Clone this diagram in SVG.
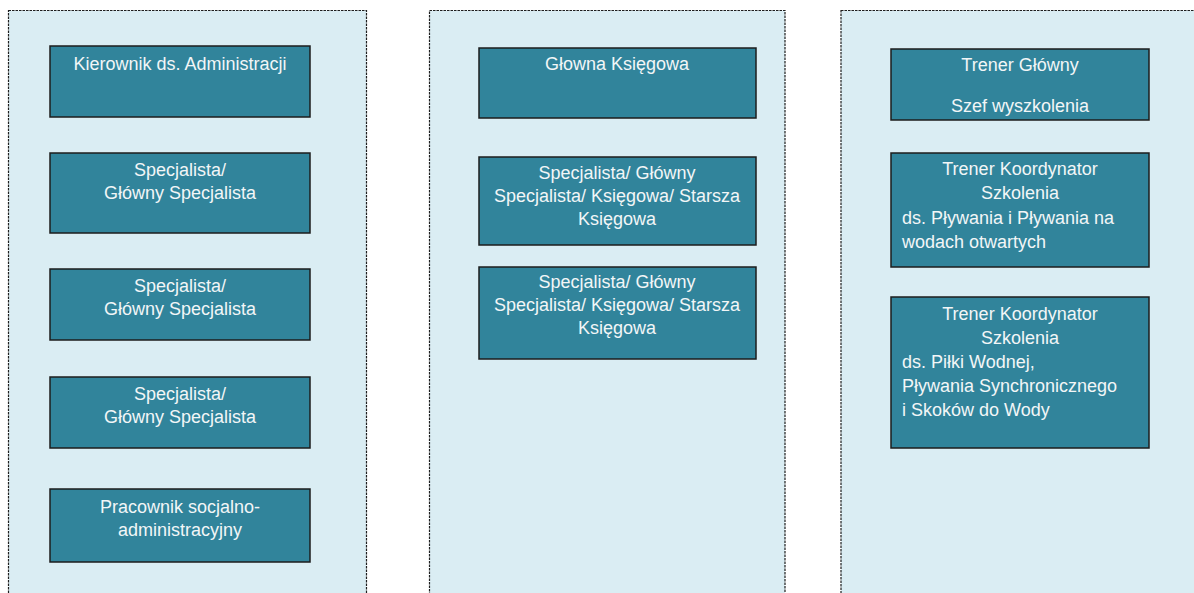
<svg xmlns="http://www.w3.org/2000/svg" width="1194" height="593" viewBox="0 0 1194 593">
<style>
.panel{fill:#daedf3;stroke:#1e1e1e;stroke-width:1.2;stroke-dasharray:2.5 1}
.box{fill:#31849b;stroke:#1c1c1c;stroke-width:1.5}
text{font-family:"Liberation Sans",Arial,sans-serif;font-size:18px;fill:#f2f6f7}
.c{text-anchor:middle}
</style>
<rect width="1194" height="593" fill="#ffffff"/>
<g id="panels">
<rect id="panel-admin" class="panel" x="8.5" y="10.5" width="358" height="600"/>
<rect id="panel-ksiegowosc" class="panel" x="429.5" y="10.5" width="355.5" height="600"/>
<rect id="panel-szkolenie" class="panel" x="841" y="10.5" width="360" height="600"/>
</g>
<g id="connectors"></g>
<g id="n1"><rect class="box" x="50" y="46" width="260" height="71"/><text class="c" x="180" y="70">Kierownik ds. Administracji</text></g>
<g id="n2"><rect class="box" x="50" y="153" width="260" height="80"/><text class="c" x="180" y="176">Specjalista/</text><text class="c" x="180" y="199">Główny Specjalista</text></g>
<g id="n3"><rect class="box" x="50" y="269" width="260" height="71"/><text class="c" x="180" y="292">Specjalista/</text><text class="c" x="180" y="315">Główny Specjalista</text></g>
<g id="n4"><rect class="box" x="50" y="377" width="260" height="71"/><text class="c" x="180" y="400">Specjalista/</text><text class="c" x="180" y="423">Główny Specjalista</text></g>
<g id="n5"><rect class="box" x="50" y="489" width="260" height="73"/><text class="c" x="180" y="513">Pracownik socjalno-</text><text class="c" x="180" y="536">administracyjny</text></g>
<g id="n6"><rect class="box" x="479" y="48" width="277" height="70"/><text class="c" x="617" y="70">Głowna Księgowa</text></g>
<g id="n7"><rect class="box" x="479" y="157" width="277" height="88"/><text class="c" x="617" y="179">Specjalista/ Główny</text><text class="c" x="617" y="202">Specjalista/ Księgowa/ Starsza</text><text class="c" x="617" y="225">Księgowa</text></g>
<g id="n8"><rect class="box" x="479" y="267" width="277" height="92"/><text class="c" x="617" y="288">Specjalista/ Główny</text><text class="c" x="617" y="311">Specjalista/ Księgowa/ Starsza</text><text class="c" x="617" y="334">Księgowa</text></g>
<g id="n9"><rect class="box" x="891" y="49" width="258" height="71"/><text class="c" x="1020" y="71">Trener Główny</text><text class="c" x="1020" y="112">Szef wyszkolenia</text></g>
<g id="n10"><rect class="box" x="891" y="153" width="258" height="114"/><text class="c" x="1020" y="175">Trener Koordynator</text><text class="c" x="1020" y="199">Szkolenia</text><text x="902" y="224">ds. Pływania i Pływania na</text><text x="902" y="248">wodach otwartych</text></g>
<g id="n11"><rect class="box" x="891" y="297" width="258" height="151"/><text class="c" x="1020" y="320">Trener Koordynator</text><text class="c" x="1020" y="344">Szkolenia</text><text x="902" y="368">ds. Piłki Wodnej,</text><text x="902" y="392">Pływania Synchronicznego</text><text x="902" y="416">i Skoków do Wody</text></g>
</svg>
